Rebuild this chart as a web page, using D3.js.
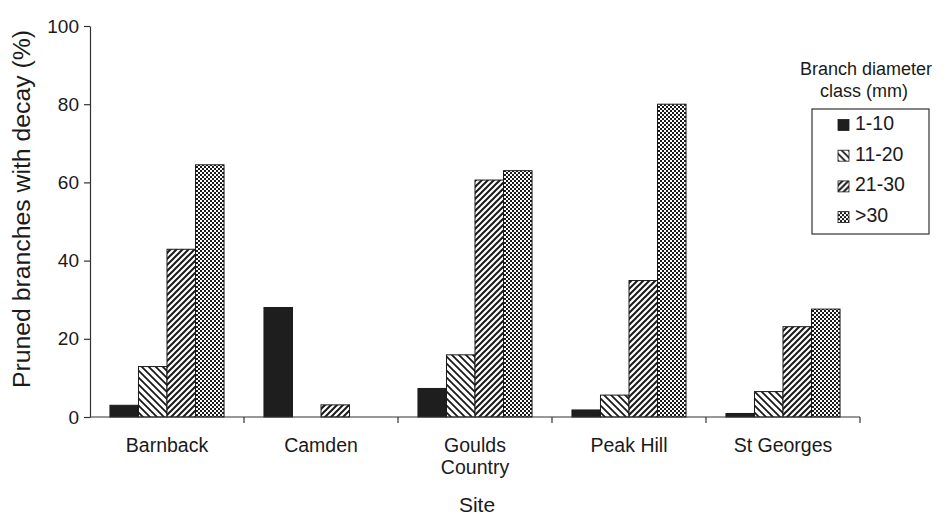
<!DOCTYPE html>
<html>
<head>
<meta charset="utf-8">
<script src="https://cdn.jsdelivr.net/npm/d3@7/dist/d3.min.js"></script>
<style>
  html, body { margin: 0; padding: 0; background: #fff; }
  svg { display: block; font-family: "Liberation Sans", Arial, sans-serif; }
</style>
</head>
<body>
<svg id="chart" width="946" height="515"></svg>
<script>
// Pruned branches with decay, by site and branch diameter class
const sites = ["Barnback", "Camden", "Goulds Country", "Peak Hill", "St Georges"];
const siteLabels = [["Barnback"], ["Camden"], ["Goulds", "Country"], ["Peak Hill"], ["St Georges"]];
const classes = ["1-10", "11-20", "21-30", ">30"];
const decay1to10   = [3.0, 28.0, 7.3, 1.8, 0.9];
const decay11to20  = [12.9, 0, 15.9, 5.6, 6.5];
const decay21to30  = [42.9, 3.1, 60.6, 34.9, 23.1];
const decayOver30  = [64.5, 0, 63.0, 80.0, 27.6];
const yTicks = [0, 20, 40, 60, 80, 100];

const series = [decay1to10, decay11to20, decay21to30, decayOver30];
const fills = ["#1e1e1e", "url(#hatchBack)", "url(#hatchFwd)", "url(#checker)"];

const svg = d3.select("#chart");
const ink = "#1a1a1a";

// fill patterns
const defs = svg.append("defs");
const pBack = defs.append("pattern").attr("id", "hatchBack")
  .attr("patternUnits", "userSpaceOnUse").attr("width", 7).attr("height", 7);
pBack.append("rect").attr("width", 7).attr("height", 7).attr("fill", "#fff");
pBack.append("path").attr("d", "M-1,-1 L8,8 M-1,6 L1,8 M6,-1 L8,1")
  .attr("stroke", ink).attr("stroke-width", 1.8);

const pFwd = defs.append("pattern").attr("id", "hatchFwd")
  .attr("patternUnits", "userSpaceOnUse").attr("width", 6).attr("height", 6);
pFwd.append("rect").attr("width", 6).attr("height", 6).attr("fill", "#fff");
pFwd.append("path").attr("d", "M-1,7 L7,-1 M-1,1 L1,-1 M5,7 L7,5")
  .attr("stroke", ink).attr("stroke-width", 2);

const pChk = defs.append("pattern").attr("id", "checker")
  .attr("patternUnits", "userSpaceOnUse").attr("width", 4).attr("height", 4);
pChk.append("rect").attr("width", 4).attr("height", 4).attr("fill", "#fff");
pChk.append("rect").attr("x", 0).attr("y", 0).attr("width", 2).attr("height", 2).attr("fill", ink);
pChk.append("rect").attr("x", 2).attr("y", 2).attr("width", 2).attr("height", 2).attr("fill", ink);

// scales
const x0 = d3.scaleBand().domain(sites).range([90, 860]).padding(0);
const x1 = d3.scaleBand().domain(classes).range([0, x0.bandwidth()])
  .paddingInner(0).paddingOuter(0.7);
const y = d3.scaleLinear().domain([0, 100]).range([417, 26]);

// bars
const groups = svg.append("g").selectAll("g").data(sites).join("g")
  .attr("transform", d => `translate(${x0(d)},0)`);
groups.selectAll("rect")
  .data((d, i) => classes.map((c, k) => ({ c, k, v: series[k][i] })).filter(e => e.v > 0))
  .join("rect")
  .attr("x", e => x1(e.c))
  .attr("y", e => y(e.v))
  .attr("width", x1.bandwidth())
  .attr("height", e => y(0) - y(e.v))
  .attr("fill", e => fills[e.k])
  .attr("stroke", ink)
  .attr("stroke-width", 1);

// y axis
const yAxis = svg.append("g").attr("transform", "translate(90,0)")
  .call(d3.axisLeft(y).tickValues(yTicks).tickSize(6).tickSizeOuter(0).tickPadding(5));
yAxis.select(".domain").attr("stroke", "#333").attr("stroke-width", 1.2);
yAxis.selectAll(".tick line").attr("stroke", "#333").attr("stroke-width", 1.2);
yAxis.selectAll(".tick text").attr("font-size", 19).attr("fill", ink)
  .attr("font-family", "Liberation Sans, Arial, sans-serif");

// x axis with ticks between sites
const xAxis = svg.append("g").attr("transform", "translate(0,417)");
xAxis.append("line").attr("x1", 90).attr("x2", 860).attr("y1", 0).attr("y2", 0)
  .attr("stroke", "#333").attr("stroke-width", 1.2);
xAxis.selectAll("line.tk").data(sites).join("line").attr("class", "tk")
  .attr("x1", d => x0(d) + x0.bandwidth()).attr("x2", d => x0(d) + x0.bandwidth())
  .attr("y1", 0).attr("y2", 6).attr("stroke", "#333").attr("stroke-width", 1.2);
xAxis.selectAll("text.site").data(sites).join("text").attr("class", "site")
  .attr("text-anchor", "middle").attr("font-size", 19.5).attr("fill", ink)
  .attr("x", d => x0(d) + x0.bandwidth() / 2)
  .each(function (d, i) {
    d3.select(this).selectAll("tspan").data(siteLabels[i]).join("tspan")
      .attr("x", x0(d) + x0.bandwidth() / 2)
      .attr("y", (t, j) => 35 + j * 21.5)
      .text(t => t);
  });

// axis titles
svg.append("text").attr("x", 477).attr("y", 512).attr("text-anchor", "middle")
  .attr("font-size", 21).attr("fill", ink).text("Site");
svg.append("text").attr("transform", "translate(30,209) rotate(-90)")
  .attr("text-anchor", "middle").attr("font-size", 23).attr("fill", ink)
  .attr("textLength", 358).attr("lengthAdjust", "spacingAndGlyphs")
  .text("Pruned branches with decay (%)");

// legend
const lg = svg.append("g");
lg.append("text").attr("x", 866).attr("y", 75).attr("text-anchor", "middle")
  .attr("font-size", 18).attr("fill", ink).text("Branch diameter");
lg.append("text").attr("x", 864).attr("y", 97).attr("text-anchor", "middle")
  .attr("font-size", 18).attr("fill", ink).text("class (mm)");
lg.append("rect").attr("x", 812).attr("y", 109).attr("width", 117).attr("height", 125)
  .attr("fill", "#fff").attr("stroke", "#333").attr("stroke-width", 1.2);
const items = lg.selectAll("g.item").data(classes).join("g").attr("class", "item")
  .attr("transform", (d, i) => `translate(838,${130 + i * 30.7})`);
items.append("rect").attr("x", 0).attr("y", -10.5).attr("width", 11).attr("height", 11)
  .attr("fill", (d, i) => fills[i]).attr("stroke", ink).attr("stroke-width", 0.8);
items.append("text").attr("x", 17).attr("y", 0).attr("font-size", 19.5).attr("fill", ink)
  .text(d => d);
</script>
</body>
</html>
